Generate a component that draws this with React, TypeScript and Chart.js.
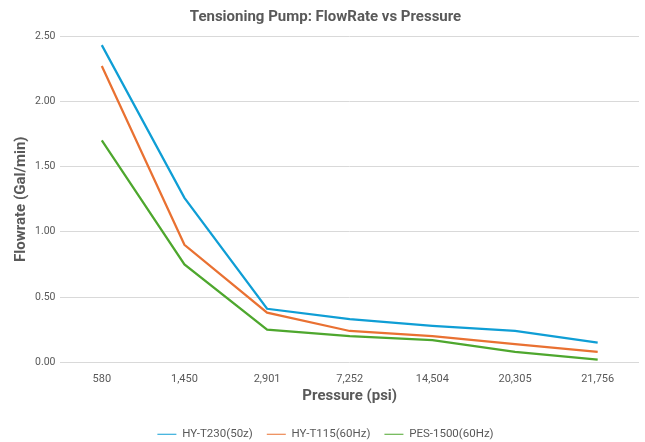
import React, { useEffect, useRef } from "react";
import { Chart, registerables } from "chart.js";

Chart.register(...registerables);

const pressures = ["580", "1,450", "2,901", "7,252", "14,504", "20,305", "21,756"];
const hyT230 = [2.43, 1.26, 0.41, 0.33, 0.28, 0.24, 0.15];
const hyT115 = [2.27, 0.9, 0.38, 0.24, 0.2, 0.14, 0.08];
const pes1500 = [1.7, 0.75, 0.25, 0.2, 0.17, 0.08, 0.02];

const FONT = "Roboto, 'Open Sans', sans-serif";
const GREY = "#595959";

export default function App() {
  const ref = useRef<HTMLCanvasElement>(null);
  useEffect(() => {
    document.body.style.margin = "0";
    const chart = new Chart(ref.current!, {
      type: "line",
      data: {
        labels: pressures,
        datasets: [
          { label: "HY-T230(50z)", data: hyT230, borderColor: "#0F9ED5", backgroundColor: "#0F9ED5" },
          { label: "HY-T115(60Hz)", data: hyT115, borderColor: "#E97132", backgroundColor: "#E97132" },
          { label: "PES-1500(60Hz)", data: pes1500, borderColor: "#4EA72E", backgroundColor: "#4EA72E" },
        ],
      },
      options: {
        animation: false,
        responsive: false,
        devicePixelRatio: 1,
        layout: { padding: { left: 12, right: 6, top: 4, bottom: -8 } },
        elements: {
          line: { borderWidth: 2.25, tension: 0 },
          point: { radius: 0 },
        },
        plugins: {
          title: {
            display: true,
            text: "Tensioning Pump: FlowRate vs Pressure",
            color: GREY,
            font: { family: FONT, size: 15, weight: "bold" },
            padding: { top: 4, bottom: 10 },
          },
          legend: {
            position: "bottom",
            labels: {
              usePointStyle: true,
              pointStyle: "line",
              pointStyleWidth: 19,
              boxWidth: 19,
              color: GREY,
              font: { family: FONT, size: 11.5 },
              padding: 14,
            },
          },
          tooltip: { enabled: false },
        },
        scales: {
          x: {
            offset: true,
            grid: { display: false },
            border: { display: false },
            ticks: { color: GREY, font: { family: FONT, size: 11 }, padding: 2 },
            title: {
              display: true,
              text: "Pressure (psi)",
              color: GREY,
              font: { family: FONT, size: 15, weight: "bold" },
              padding: { top: 0, bottom: 9 },
            },
          },
          y: {
            min: 0,
            max: 2.5,
            border: { display: false },
            grid: { color: "#d9d9d9", lineWidth: 1, drawTicks: false },
            ticks: {
              stepSize: 0.5,
              color: GREY,
              font: { family: FONT, size: 10.5 },
              padding: 5,
              callback: (v: any) => Number(v).toFixed(2),
            },
            title: {
              display: true,
              text: "Flowrate (Gal/min)",
              color: GREY,
              font: { family: FONT, size: 15, weight: "bold" },
              padding: { top: 0, bottom: 0 },
            },
          },
        },
      },
    });
    return () => chart.destroy();
  }, []);
  return <canvas ref={ref} width={645} height={442} style={{ display: "block" }} />;
}
